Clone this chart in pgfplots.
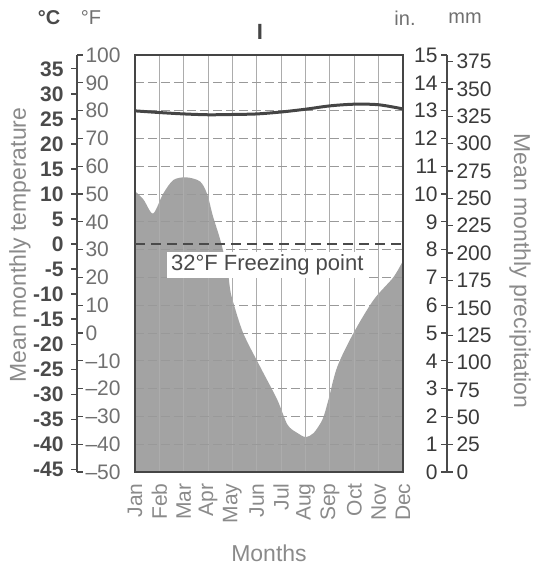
\documentclass[border=0pt]{standalone}
\usepackage{fontspec}
\setmainfont{Liberation Sans}
\usepackage{pgfplots}
\pgfplotsset{compat=1.18}
\definecolor{areagray}{HTML}{A3A3A3}
\definecolor{linegray}{HTML}{454545}
\definecolor{labgray}{HTML}{8A8A8A}
\definecolor{tickgray}{HTML}{707070}
\definecolor{dkgray}{HTML}{4A4A4A}
\definecolor{rtgray}{HTML}{3A3A3A}
\newcommand{\tfont}{\fontsize{21}{24}\selectfont}
\newcommand{\lfont}{\fontsize{23}{26}\selectfont}
\begin{document}
\begin{tikzpicture}
\useasboundingbox (-135pt,-101pt) rectangle (400pt,472pt);

% main plot box with grid and precipitation area
\begin{axis}[
  at={(0pt,0pt)}, anchor=south west,
  scale only axis, width=268pt, height=417pt,
  xmin=0, xmax=11, ymin=0, ymax=15,
  xtick={0,...,11},
  xticklabels={Jan,Feb,Mar,Apr,May,Jun,Jul,Aug,Sep,Oct,Nov,Dec},
  xticklabel style={rotate=90, anchor=east, font=\tfont, text=labgray},
  xticklabel shift=8pt,
  ytick={0,...,15}, yticklabels={},
  major tick length=0pt,
  grid=major,
  x grid style={color=gray!65, line width=0.9pt},
  y grid style={color=gray!80, line width=0.9pt, dash pattern=on 9pt off 4pt},
  axis on top,
  axis line style={linegray, line width=1.6pt},
  xlabel={Months},
  xlabel style={font=\lfont, text=labgray, at={(axis description cs:0.5,-0.194)}, anchor=center},
  title={\textbf{I}},
  title style={font=\fontsize{22}{22}\selectfont, text=linegray, at={(axis description cs:0.466,1)}, anchor=south, yshift=6pt},
]
\addplot[fill=areagray, draw=none, smooth, tension=0.5] coordinates {
 (0,10.1) (0.35,9.8) (0.74,9.3) (1.15,10.0) (1.57,10.5) (2.1,10.6) (2.67,10.45)
 (2.96,10.0) (3.2,9.2) (3.5,8.35) (3.79,7.3) (3.9,6.6) (4.0,6.2) (4.44,5.0) (5.14,3.78)
 (5.84,2.6) (6.26,1.7) (6.67,1.4) (7.0,1.26) (7.33,1.4) (7.7,1.9) (7.94,2.6)
 (8.3,3.78) (8.97,5.0) (9.8,6.2) (10.6,7.0) (11,7.6)
} \closedcycle;
\end{axis}

% temperature line and freezing point (deg F)
\begin{axis}[
  at={(0pt,0pt)}, anchor=south west,
  scale only axis, width=268pt, height=417pt,
  xmin=0, xmax=11, ymin=-50, ymax=100, hide axis,
]
\addplot[dkgray, line width=1.3pt, dash pattern=on 10pt off 6pt] coordinates {(0,32) (11,32)};
\addplot[linegray, line width=3pt, smooth] coordinates {
 (0,79.9) (1,79.3) (2,78.8) (3,78.5) (4,78.6) (5,78.8) (6,79.5) (7,80.5)
 (8,81.7) (9,82.3) (10,82.1) (11,80.6)};
\node[fill=white, inner xsep=4pt, inner ysep=3pt, font=\fontsize{22}{24}\selectfont, text=dkgray] at (axis cs:5.43,24.5) {32°F Freezing point};
\end{axis}

% deg F scale
\begin{axis}[
  at={(-59pt,0pt)}, anchor=south west,
  scale only axis, width=1pt, height=417pt,
  xmin=0, xmax=1, ymin=-50, ymax=100,
  axis x line=none, axis y line=right,
  axis line style={-, dkgray, line width=1.3pt},
  ytick={-50,-40,...,100},
  yticklabels={--50,--40,--30,--20,--10,0,10,20,30,40,50,60,70,80,90,100},
  tick align=outside, major tick length=6pt,
  tick style={dkgray, line width=1.2pt},
  yticklabel style={font=\tfont, text=tickgray, xshift=-1pt},
]
\end{axis}
% deg C scale
\begin{axis}[
  at={(-58pt,0pt)}, anchor=south west,
  scale only axis, width=1pt, height=417pt,
  xmin=0, xmax=1, ymin=-45.556, ymax=37.778,
  axis x line=none, axis y line=left,
  axis line style={-, dkgray, line width=1.3pt},
  ytick={-45,-40,...,35},
  yticklabels={-45,-40,-35,-30,-25,-20,-15,-10,-5,0,5,10,15,20,25,30,35},
  tick align=outside, major tick length=6pt,
  tick style={dkgray, line width=1.2pt},
  yticklabel style={font=\tfont\bfseries, text=dkgray, xshift=-4pt},
]
\end{axis}
% inches scale
\begin{axis}[
  at={(312pt,0pt)}, anchor=south west,
  scale only axis, width=1pt, height=417pt,
  xmin=0, xmax=1, ymin=0, ymax=15,
  axis x line=none, axis y line=left,
  axis line style={-, dkgray, line width=1.3pt},
  ytick={0,...,15},
  tick align=outside, major tick length=6pt,
  tick style={dkgray, line width=1.2pt},
  yticklabel style={font=\tfont, text=rtgray},
  /pgf/number format/assume math mode=true,
]
\end{axis}
% mm scale
\begin{axis}[
  at={(311pt,0pt)}, anchor=south west,
  scale only axis, width=1pt, height=417pt,
  xmin=0, xmax=1, ymin=0, ymax=381,
  axis x line=none, axis y line=right,
  axis line style={-, dkgray, line width=1.3pt},
  ytick={0,25,...,375},
  tick align=outside, major tick length=6pt,
  tick style={dkgray, line width=1.2pt},
  yticklabel style={font=\tfont, text=rtgray},
  /pgf/number format/assume math mode=true,
]
\end{axis}

% headers and axis titles
\node[font=\fontsize{20}{20}\selectfont\bfseries, text=dkgray] at (-86pt,454pt) {°C};
\node[font=\fontsize{20}{20}\selectfont, text=tickgray] at (-44pt,454pt) {°F};
\node[font=\fontsize{20}{20}\selectfont, text=tickgray] at (270pt,454pt) {in.};
\node[font=\fontsize{20}{20}\selectfont, text=tickgray] at (330pt,454pt) {mm};
\node[rotate=90, font=\lfont, text=labgray] at (-115pt,227pt) {Mean monthly temperature};
\node[rotate=-90, font=\lfont, text=labgray] at (385pt,201pt) {Mean monthly precipitation};
\end{tikzpicture}
\end{document}
